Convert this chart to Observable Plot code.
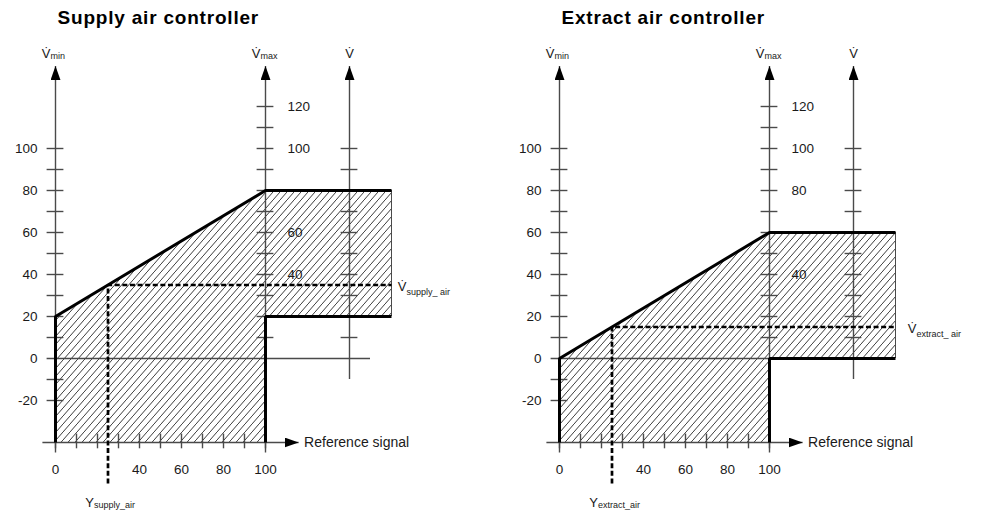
<!DOCTYPE html>
<html>
<head>
<meta charset="utf-8">
<script src="https://cdn.jsdelivr.net/npm/d3@7"></script>
<script src="https://cdn.jsdelivr.net/npm/@observablehq/plot@0.6"></script>
<style>
  html, body { margin: 0; padding: 0; background: #fff; }
  #chart { display: flex; width: 983px; height: 510px; overflow: hidden; }
  #chart svg { flex: none; display: block; }
</style>
</head>
<body>
<div id="chart"></div>
<script>
// ---------------- data ----------------
const titles = ["Supply air controller", "Extract air controller"];
const flowAtMinSignal = [20, 0];    // V̇min: flow at reference signal 0
const flowAtMaxSignal = [80, 60];   // V̇max: flow at reference signal 100
const flowFloorBeyond = [20, 0];    // lower limit of the band beyond 100
const signalMarker = [25, 25];      // Y_supply_air / Y_extract_air
const flowMarker = [35, 15];        // V̇supply_air / V̇extract_air
const flowSubscripts = ["supply_ air", "extract_ air"];
const signalSubscripts = ["supply_air", "extract_air"];

const xTickValues = [0, 10, 20, 30, 40, 50, 60, 70, 80, 90, 100];
const xTickLabels = [0, 40, 60, 80, 100];
const vminTickValues = [100, 90, 80, 70, 60, 50, 40, 30, 20, 10, -10, -20];
const vminTickLabels = [100, 80, 60, 40, 20, 0, -20];
const vmaxTickValues = [120, 110, 100, 90, 80, 70, 60, 50, 40, 30, 20, 10];
const vmaxTickLabels = [[120, 100, 60, 40], [120, 100, 80, 40]];
const vTickValues = [100, 90, 80, 70, 60, 50, 40, 30, 20, 10];
const axisNames = [
  {at: 0, main: "V\u0307", sub: "min"},
  {at: 100, main: "V\u0307", sub: "max"},
  {at: 140, main: "V\u0307", sub: ""}
];

// positions on the diagram (in axis units)
const vAxisAt = 140;
const bandEnd = 160;
const signalAxisLevel = -40;
const axisTop = 139;
const axisBottom = -45;
const vAxisBottom = -10;
const zeroLineEnd = 150;
const signalAxisStart = -6;
const signalAxisEnd = 116;
const dashBottom = -59.5;

// ---------------- style ----------------
const FONT = "'Liberation Sans', Arial, Helvetica, sans-serif";
const AXIS = "#4a4a4a";
const INK = "#1a1a1a";
const widths = [504, 479];
const flowLabelDx = [15, 21];

function drawPanel(i) {
  const mn = flowAtMinSignal[i], mx = flowAtMaxSignal[i], lo = flowFloorBeyond[i];
  const region = [
    {x: 0, y1: signalAxisLevel, y2: mn},
    {x: 100, y1: signalAxisLevel, y2: mx},
    {x: 100, y1: lo, y2: mx},
    {x: bandEnd, y1: lo, y2: mx}
  ];
  const upper = [
    {x: 0, y: signalAxisLevel}, {x: 0, y: mn}, {x: 100, y: mx}, {x: bandEnd, y: mx}
  ];
  const lower = [
    {x: bandEnd, y: lo}, {x: 100, y: lo}, {x: 100, y: signalAxisLevel}
  ];
  const operating = [
    {x: signalMarker[i], y: dashBottom},
    {x: signalMarker[i], y: flowMarker[i]},
    {x: bandEnd, y: flowMarker[i]}
  ];
  const axisThin = {stroke: AXIS, strokeWidth: 1.4};

  const svg = Plot.plot({
    width: widths[i],
    height: 510,
    marginTop: 0, marginLeft: 0, marginRight: 0, marginBottom: 0,
    x: {domain: [0, 100], range: [55, 265], axis: null},
    y: {domain: [0, 100], range: [358, 148], axis: null},
    style: {fontFamily: FONT, fontSize: "13.5px", background: "#fff", color: INK},
    marks: [
      Plot.areaY(region, {x: "x", y1: "y1", y2: "y2", fill: `url(#hatch-${i})`, stroke: "none"}),
      Plot.ruleX([bandEnd], {y1: lo, y2: mx, stroke: AXIS, strokeWidth: 1}),
      Plot.ruleX([0, 100], {y1: axisBottom, y2: axisTop, ...axisThin, ariaDescription: "arrow-axis"}),
      Plot.ruleX([vAxisAt], {y1: vAxisBottom, y2: axisTop, ...axisThin, ariaDescription: "arrow-axis"}),
      Plot.ruleY([signalAxisLevel], {x1: signalAxisStart, x2: signalAxisEnd, ...axisThin, ariaDescription: "arrow-axis"}),
      Plot.ruleY([0], {x1: -4, x2: zeroLineEnd, ...axisThin}),
      Plot.ruleY(vminTickValues, {y: d => d, x1: -4, x2: 4, ...axisThin}),
      Plot.ruleY(vmaxTickValues, {y: d => d, x1: 96, x2: 104, ...axisThin}),
      Plot.ruleY(vTickValues, {y: d => d, x1: vAxisAt - 4, x2: vAxisAt + 4, ...axisThin}),
      Plot.ruleX(xTickValues, {x: d => d, y1: -36, y2: -43, ...axisThin}),
      Plot.line(upper, {x: "x", y: "y", stroke: "#000", strokeWidth: 3, strokeLinejoin: "miter", strokeLinecap: "butt"}),
      Plot.line(lower, {x: "x", y: "y", stroke: "#000", strokeWidth: 3, strokeLinejoin: "miter", strokeLinecap: "butt"}),
      Plot.line(operating, {x: "x", y: "y", stroke: "#000", strokeWidth: 2.7, strokeDasharray: "5,2.6", strokeLinejoin: "miter", strokeLinecap: "butt"}),
      Plot.text(vminTickLabels, {x: 0, y: d => d, text: d => String(d), textAnchor: "end", dx: -18, fill: INK}),
      Plot.text(vmaxTickLabels[i], {x: 100, y: d => d, text: d => String(d), textAnchor: "start", dx: 22, fill: INK}),
      Plot.text(xTickLabels, {x: d => d, y: signalAxisLevel, dy: 27, text: d => String(d), fill: INK}),
      Plot.text(["Reference signal"], {x: signalAxisEnd, y: signalAxisLevel, dx: 5, textAnchor: "start", fontSize: 14, fill: INK, text: d => d}),
      Plot.text(axisNames.filter(d => d.sub), {x: "at", y: axisTop, text: "main", textAnchor: "end", dx: -5, dy: -13, fontSize: 13, fill: INK}),
      Plot.text(axisNames.filter(d => d.sub), {x: "at", y: axisTop, text: "sub", textAnchor: "start", dx: -5, dy: -10, fontSize: 9, fill: INK}),
      Plot.text(axisNames.filter(d => !d.sub), {x: "at", y: axisTop, text: "main", textAnchor: "middle", dy: -13, fontSize: 13, fill: INK}),
      Plot.text([flowMarker[i]], {x: bandEnd, y: d => d, text: () => "V\u0307", textAnchor: "end", dx: flowLabelDx[i], dy: 2, fontSize: 13, fill: INK}),
      Plot.text([flowMarker[i]], {x: bandEnd, y: d => d, text: () => flowSubscripts[i], textAnchor: "start", dx: flowLabelDx[i], dy: 7, fontSize: 9, fill: INK}),
      Plot.text([signalMarker[i]], {x: d => d, y: signalAxisLevel, text: () => "Y", textAnchor: "end", dx: -14, dy: 60, fontSize: 13, fill: INK}),
      Plot.text([signalMarker[i]], {x: d => d, y: signalAxisLevel, text: () => signalSubscripts[i], textAnchor: "start", dx: -14, dy: 63, fontSize: 9, fill: INK}),
      Plot.text([titles[i]], {frameAnchor: "top-left", dx: 57, dy: 9.6, lineAnchor: "top", textAnchor: "start", fontSize: 19, fontWeight: "bold", fill: "#000", text: d => d, ariaDescription: "panel-title"})
    ]
  });

  const root = d3.select(svg);
  const defs = root.insert("defs", ":first-child");
  const pat = defs.append("pattern")
    .attr("id", `hatch-${i}`)
    .attr("patternUnits", "userSpaceOnUse")
    .attr("width", 7).attr("height", 8);
  pat.append("path")
    .attr("d", "M0,8L7,0M-1,1L1,-1M6,9L8,7")
    .attr("stroke", "#262626").attr("stroke-width", 0.9).attr("fill", "none");
  defs.append("marker")
    .attr("id", `arrow-${i}`)
    .attr("viewBox", "0 0 14 10")
    .attr("refX", 14).attr("refY", 5)
    .attr("markerWidth", 14).attr("markerHeight", 10)
    .attr("markerUnits", "userSpaceOnUse")
    .attr("orient", "auto")
    .append("path").attr("d", "M0,0L14,5L0,10Z").attr("fill", "#000");
  root.selectAll('[aria-description="arrow-axis"] line').attr("marker-end", `url(#arrow-${i})`);
  root.selectAll('[aria-description="panel-title"] text').style("letter-spacing", "0.8px");
  return svg;
}

const chart = document.getElementById("chart");
chart.appendChild(drawPanel(0));
chart.appendChild(drawPanel(1));
</script>
</body>
</html>
